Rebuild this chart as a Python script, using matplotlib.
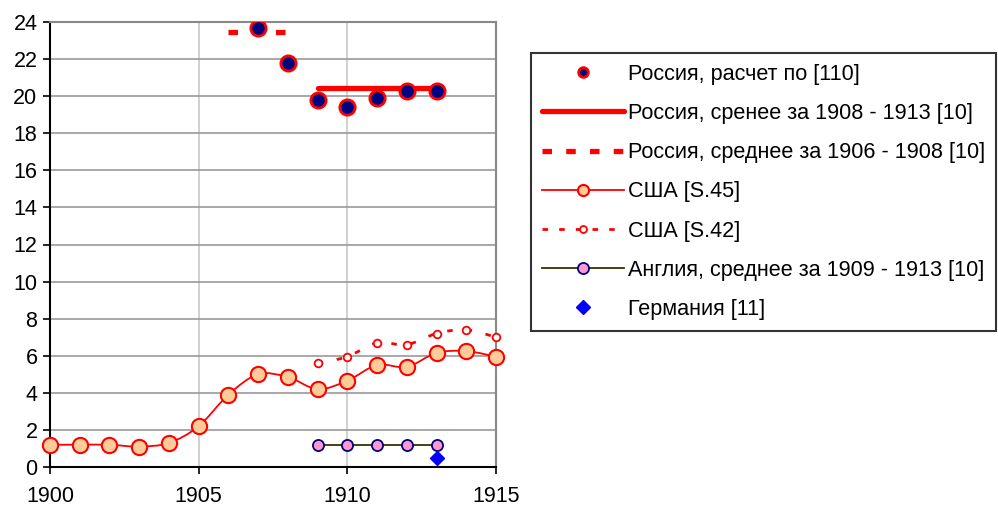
import matplotlib
matplotlib.use('Agg')
import matplotlib.pyplot as plt
from matplotlib.path import Path
from matplotlib.patches import PathPatch
from matplotlib.lines import Line2D
import numpy as np

plt.rcParams['font.family'] = ['Liberation Sans', 'DejaVu Sans']

# data
rus_years = [1907, 1908, 1909, 1910, 1911, 1912, 1913]
rus_calc = [23.7, 21.8, 19.8, 19.4, 19.9, 20.3, 20.3]

rus_avg13_years = [1909, 1913]
rus_avg13 = [20.45, 20.45]

rus_avg08_years = [1906, 1908]
rus_avg08 = [23.45, 23.45]

usa45_years = list(range(1900, 1916))
usa45 = [1.2, 1.2, 1.2, 1.1, 1.3, 2.2, 3.9, 5.0, 4.85, 4.2, 4.65, 5.5, 5.4, 6.15, 6.25, 5.95]

usa42_years = list(range(1909, 1916))
usa42 = [5.6, 5.95, 6.7, 6.6, 7.2, 7.4, 7.0]

eng_years = [1909, 1910, 1911, 1912, 1913]
eng = [1.2, 1.2, 1.2, 1.2, 1.2]

ger_years = [1913]
ger = [0.5]

labels = ['Россия, расчет по [110]',
          'Россия, сренее за 1908 - 1913 [10]',
          'Россия, среднее за 1906 - 1908 [10]',
          'США [S.45]',
          'США [S.42]',
          'Англия, среднее за 1909 - 1913 [10]',
          'Германия [11]']


def smooth_path(xs, ys):
    # Excel-like smoothed line as cubic bezier segments through the points
    p = np.column_stack([xs, ys]).astype(float)
    n = len(p)
    verts = [p[0]]
    codes = [Path.MOVETO]
    for i in range(n - 1):
        p0 = p[i - 1] if i > 0 else p[i]
        p3 = p[i + 2] if i + 2 < n else p[i + 1]
        c1 = p[i] + (p[i + 1] - p0) / 6
        c2 = p[i + 1] - (p3 - p[i]) / 6
        verts += [c1, c2, p[i + 1]]
        codes += [Path.CURVE4] * 3
    return Path(verts, codes)


fig = plt.figure(figsize=(9.98, 5.09), dpi=100)
ax = fig.add_axes([50 / 998, 42 / 509, 446 / 998, 445 / 509])

ax.set_xlim(1900, 1915)
ax.set_ylim(0, 24)
ax.set_xticks([1900, 1905, 1910, 1915])
ax.set_yticks(range(0, 25, 2))
ax.tick_params(labelsize=15.5, direction='out', length=5, width=1.2, colors='black')
ax.tick_params(axis='x', pad=9)
ax.tick_params(axis='y', pad=4)

ax.yaxis.grid(True, color='#999999', lw=1.2)
ax.xaxis.grid(True, color='#c8c8c8', lw=1.2)
ax.set_axisbelow(True)
for side in ['top', 'right']:
    ax.spines[side].set_color('#888888')
    ax.spines[side].set_linewidth(1.5)
for side in ['left', 'bottom']:
    ax.spines[side].set_color('black')
    ax.spines[side].set_linewidth(1.5)

# USA S.45 smoothed line
ax.add_patch(PathPatch(smooth_path(usa45_years, usa45), fill=False,
                       edgecolor='red', lw=1.3, zorder=3, clip_on=False))
ax.plot(usa45_years, usa45, ls='none', marker='o', ms=11, mfc='#FFCC99',
        mec='red', mew=1.5, zorder=4, clip_on=False)

# USA S.42 dotted line
ax.add_patch(PathPatch(smooth_path(usa42_years, usa42), fill=False,
                       edgecolor='red', lw=2, linestyle=(0, (2, 5)), zorder=3, clip_on=False))
ax.plot(usa42_years, usa42, ls='none', marker='o', ms=5.5, mfc='white',
        mec='red', mew=1.3, zorder=4, clip_on=False)

# England
ax.plot(eng_years, eng, color='#333300', lw=1.3, marker='o', ms=8,
        mfc='#FF99CC', mec='#000080', mew=1.3, zorder=4)

# Germany
ax.plot(ger_years, ger, ls='none', marker='D', ms=7, color='#0000FF', zorder=4)

# Russia averages
ax.plot(rus_avg13_years, rus_avg13, color='red', lw=3.8, solid_capstyle='round', zorder=3)
ax.plot(rus_avg08_years, rus_avg08, color='red', lw=3.8, ls=(0, (1.8, 2.7)), zorder=3)

# Russia calculated
ax.plot(rus_years, rus_calc, ls='none', marker='o', ms=11, mfc='#000080',
        mec='red', mew=2, zorder=5)

# legend with proxy handles (smaller markers like the original)
handles = [
    Line2D([], [], ls='none', marker='o', ms=7, mfc='#000080', mec='red', mew=2),
    Line2D([], [], color='red', lw=3.8, solid_capstyle='round'),
    Line2D([], [], color='red', lw=3.8, ls=(0, (1.8, 2.7))),
    Line2D([], [], color='red', lw=1.3, marker='o', ms=8, mfc='#FFCC99', mec='red', mew=1.5),
    Line2D([], [], color='red', lw=2, ls=(0, (2, 4)), marker='o', ms=5, mfc='white', mec='red', mew=1.3),
    Line2D([], [], color='#333300', lw=1.3, marker='o', ms=8, mfc='#FF99CC', mec='#000080', mew=1.3),
    Line2D([], [], ls='none', marker='D', ms=7, color='#0000FF'),
]
leg = ax.legend(handles, labels, loc='upper left',
                bbox_to_anchor=(531 / 998, 1 - 53 / 509), bbox_transform=fig.transFigure,
                fontsize=15.6, frameon=True, fancybox=False, borderaxespad=0,
                handlelength=3.8, handletextpad=0.2, labelspacing=0.84,
                borderpad=0.5)
leg.get_frame().set_edgecolor('black')
leg.get_frame().set_linewidth(1.5)

fig.savefig('out.png', dpi=100)
